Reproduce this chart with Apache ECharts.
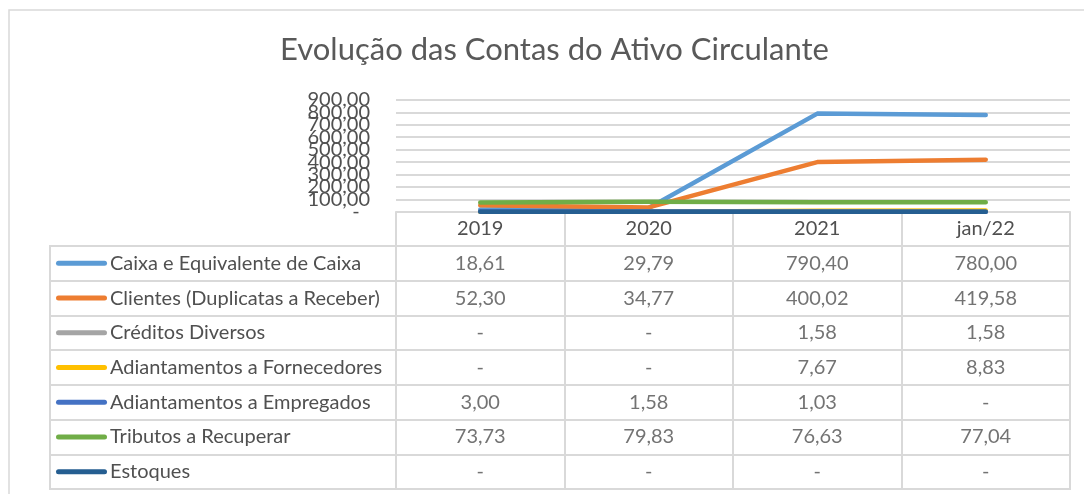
<!DOCTYPE html>
<html>
<head>
<meta charset="utf-8">
<script src="https://cdn.jsdelivr.net/npm/echarts@6/dist/echarts.min.js"></script>
<style>
html,body{margin:0;padding:0;background:#fff;}
#chart{width:1084px;height:494px;}
</style>
</head>
<body>
<div id="chart"></div>
<script>
// ---- data ----
const categories = ['2019', '2020', '2021', 'jan/22'];
const seriesNames = [
  'Caixa e Equivalente de Caixa',
  'Clientes (Duplicatas a Receber)',
  'Créditos Diversos',
  'Adiantamentos a Fornecedores',
  'Adiantamentos a Empregados',
  'Tributos a Recuperar',
  'Estoques'
];
const caixa = [18.61, 29.79, 790.40, 780.00];
const clientes = [52.30, 34.77, 400.02, 419.58];
const creditos = [0, 0, 1.58, 1.58];
const adFornecedores = [0, 0, 7.67, 8.83];
const adEmpregados = [3.00, 1.58, 1.03, 0];
const tributos = [73.73, 79.83, 76.63, 77.04];
const estoques = [0, 0, 0, 0];
const titleText = 'Evolução das Contas do Ativo Circulante';
const yMin = 0, yMax = 900, yStep = 100;

// ---- styles ----
const values = [caixa, clientes, creditos, adFornecedores, adEmpregados, tributos, estoques];
const colors = ['#5B9BD5', '#ED7D31', '#A5A5A5', '#FFC000', '#4472C4', '#70AD47', '#255E91'];
const FONT = 'Lato, "Open Sans", sans-serif';
const TXT = '#505050';
const GRID = '#d9d9d9';

function fmt(v) {
  if (v === 0) return '-';
  return v.toFixed(2).replace('.', ',');
}

const rich = { t: { fontFamily: FONT, fontSize: 20, color: TXT, padding: [0, 0, 0, 3] } };
colors.forEach((c, i) => {
  rich['s' + i] = { width: 51, height: 5, backgroundColor: c, borderRadius: 2.5 };
});

const lineSeries = seriesNames.map((name, i) => ({
  name: name,
  type: 'line',
  xAxisIndex: 0,
  yAxisIndex: 0,
  data: values[i],
  showSymbol: false,
  symbol: 'none',
  silent: true,
  lineStyle: { color: colors[i], width: 4.5, cap: 'round', join: 'round' },
  itemStyle: { color: colors[i] },
  z: 3 + i * 0.01
}));

const cellData = [];
seriesNames.forEach((name, i) => {
  categories.forEach((cat, j) => {
    cellData.push([cat, name, values[i][j]]);
  });
});

// The y tick labels overlap each other in the reference; split them across
// three coincident axes so that none of them gets hidden.
function valueAxis(k, withGrid) {
  return {
    gridIndex: 0, type: 'value', position: 'left', offset: 0,
    min: yMin, max: yMax, interval: yStep,
    axisLine: { show: false }, axisTick: { show: false },
    axisLabel: {
      show: true, margin: 26, fontFamily: FONT, fontSize: 20, color: TXT,
      showMinLabel: true, showMaxLabel: true,
      formatter: v => {
        const idx = Math.round(v / yStep);
        if (idx % 3 !== k) return '';
        return v === 0 ? '-  ' : fmt(v);
      }
    },
    splitLine: { show: withGrid, lineStyle: { color: GRID, width: 2 } }
  };
}

const chart = echarts.init(document.getElementById('chart'), null, { renderer: 'canvas' });
chart.setOption({
  animation: false,
  backgroundColor: '#fff',
  title: {
    text: titleText,
    left: 275,
    top: 29,
    textStyle: { fontFamily: FONT, fontSize: 31, fontWeight: 'normal', color: '#595959' }
  },
  graphic: [{
    type: 'rect',
    shape: { x: 9, y: 10, width: 1200, height: 600 },
    style: { fill: 'none', stroke: GRID, lineWidth: 1.5 },
    silent: true,
    z: -10
  }],
  grid: [
    { left: 396, right: 14, top: 100, bottom: 282.3, containLabel: false },
    { left: 396, right: 14, top: 246, bottom: 5, show: true, borderColor: GRID, borderWidth: 2, containLabel: false },
    { left: 50, width: 346, top: 246, bottom: 5, show: true, borderColor: GRID, borderWidth: 2, containLabel: false }
  ],
  xAxis: [
    {
      gridIndex: 0, type: 'category', data: categories, boundaryGap: true,
      axisLine: { show: true, lineStyle: { color: GRID, width: 2 } },
      axisTick: { show: true, interval: 0, length: 34.5, lineStyle: { color: GRID, width: 2 } },
      axisLabel: { show: true, interval: 0, margin: 7, fontFamily: FONT, fontSize: 20, color: TXT },
      splitLine: { show: false }
    },
    {
      gridIndex: 1, type: 'category', data: categories, boundaryGap: true,
      axisLine: { show: false }, axisTick: { show: false }, axisLabel: { show: false },
      splitLine: { show: true, interval: 0, lineStyle: { color: GRID, width: 2 } }
    },
    {
      gridIndex: 2, type: 'category', data: [''], boundaryGap: true,
      axisLine: { show: false }, axisTick: { show: false }, axisLabel: { show: false },
      splitLine: { show: false }
    }
  ],
  yAxis: [
    valueAxis(0, true),
    {
      gridIndex: 1, type: 'category', data: seriesNames, inverse: true, boundaryGap: true,
      axisLine: { show: false }, axisTick: { show: false }, axisLabel: { show: false },
      splitLine: { show: true, interval: 0, lineStyle: { color: GRID, width: 2 } }
    },
    {
      gridIndex: 2, type: 'category', data: seriesNames, inverse: true, boundaryGap: true,
      axisLine: { show: false }, axisTick: { show: false },
      axisLabel: {
        show: true, inside: true, interval: 0, margin: 6, align: 'left',
        formatter: (v, idx) => '{s' + idx + '|}{t|' + v + '}',
        rich: rich
      },
      splitLine: { show: true, interval: 0, lineStyle: { color: GRID, width: 2 } }
    },
    valueAxis(1, false),
    valueAxis(2, false)
  ],
  series: lineSeries.concat([{
    type: 'scatter',
    xAxisIndex: 1,
    yAxisIndex: 1,
    data: cellData,
    symbolSize: 1,
    silent: true,
    itemStyle: { color: 'rgba(0,0,0,0)' },
    label: {
      show: true, position: 'inside',
      fontFamily: FONT, fontSize: 20, color: TXT,
      formatter: p => fmt(p.value[2])
    }
  }])
});
</script>
</body>
</html>
